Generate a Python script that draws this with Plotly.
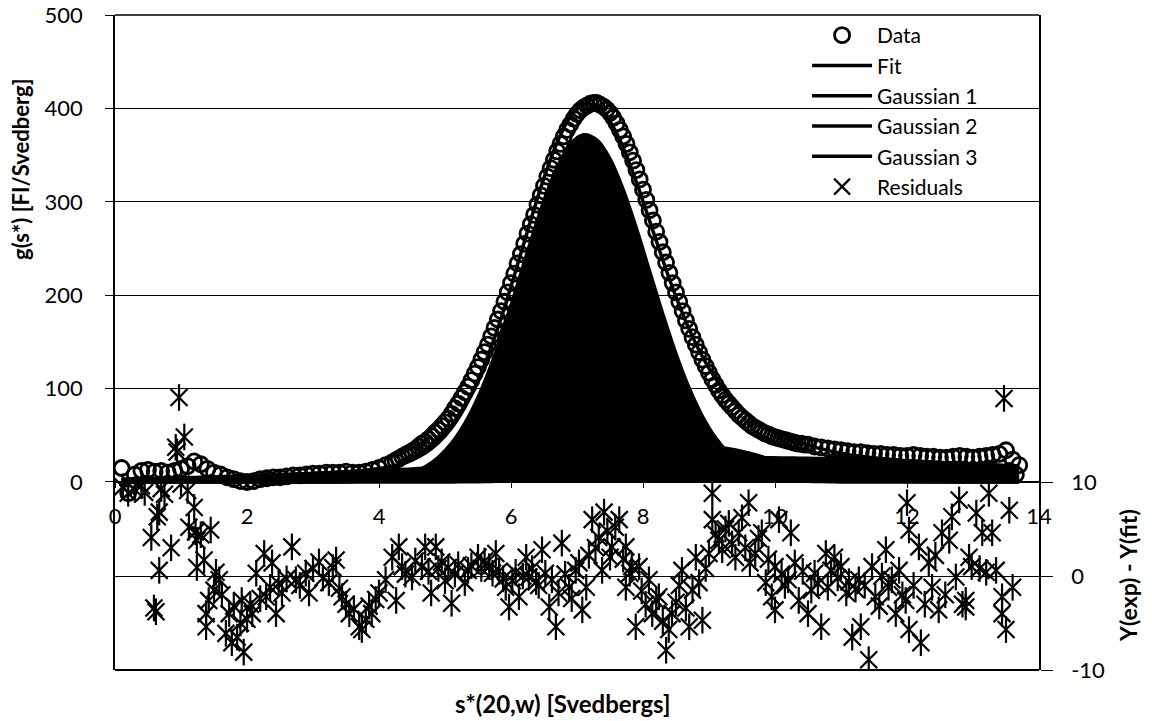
import plotly.graph_objects as go

# ---------------- data ----------------
data_s = [0.1, 0.2, 0.3, 0.4, 0.5, 0.6, 0.7, 0.8, 0.9, 1.0, 1.1, 1.2, 1.3, 1.4, 1.5, 1.6, 1.7, 1.8, 1.9, 2.0,
          2.1, 2.2, 2.3, 2.4, 2.5, 2.6, 2.7, 2.8, 2.9, 3.0, 3.1, 3.2, 3.3, 3.4, 3.5, 3.6, 3.7, 3.8, 3.9, 4.0,
          4.1, 4.2, 4.3, 4.4, 4.5, 4.6, 4.7, 4.8, 4.9, 5.0, 5.1, 5.2, 5.3, 5.4, 5.5, 5.6, 5.7, 5.8, 5.9, 6.0,
          6.1, 6.2, 6.3, 6.4, 6.5, 6.6, 6.7, 6.8, 6.9, 7.0, 7.1, 7.2, 7.3, 7.4, 7.5, 7.6, 7.7, 7.8, 7.9, 8.0,
          8.1, 8.2, 8.3, 8.4, 8.5, 8.6, 8.7, 8.8, 8.9, 9.0, 9.1, 9.2, 9.3, 9.4, 9.5, 9.6, 9.7, 9.8, 9.9, 10.0,
          10.1, 10.2, 10.3, 10.4, 10.5, 10.6, 10.7, 10.8, 10.9, 11.0, 11.1, 11.2, 11.3, 11.4, 11.5, 11.6, 11.7,
          11.8, 11.9, 12.0, 12.1, 12.2, 12.3, 12.4, 12.5, 12.6, 12.7, 12.8, 12.9, 13.0, 13.1, 13.2, 13.3, 13.4,
          13.5, 13.55, 13.6, 13.65, 13.7]
data_g = [15, -12, 8, 12, 13, 11, 12, 10, 12, 14, 17, 22, 19, 14, 10, 8, 5, 3, 1, 0,
          1, 3, 4, 5, 5, 6, 7, 7, 8, 9, 9, 10, 10, 10, 11, 10, 10, 11, 13, 15,
          18, 21, 25, 29, 33, 38, 43, 49, 56, 64, 73, 84, 96, 109, 123, 139, 156, 174, 193, 213,
          234, 255, 276, 297, 317, 336, 354, 370, 383, 394, 401, 405, 406, 402, 395, 384, 370, 353, 334, 313,
          291, 268, 246, 224, 203, 183, 164, 147, 131, 117, 104, 93, 84, 76, 69, 63, 58, 54, 51, 48,
          46, 44, 42, 41, 40, 38, 37, 36, 35, 34, 33, 32, 32, 31, 30, 30, 29,
          29, 28, 28, 29, 28, 27, 27, 26, 26, 27, 28, 27, 26, 27, 28, 29, 30,
          34, 12, 24, 8, 18]
# extra readings between the above along the peak (points are very dense there)
data_s_mid = [4.25, 4.35, 4.45, 4.55, 4.65, 4.75, 4.85, 4.95, 5.05, 5.15, 5.25, 5.35, 5.45, 5.55, 5.65,
              5.75, 5.85, 5.95, 6.05, 6.15, 6.25, 6.35, 6.45, 6.55, 6.65, 6.75, 6.85, 6.95, 7.05, 7.15,
              7.25, 7.35, 7.45, 7.55, 7.65, 7.75, 7.85, 7.95, 8.05, 8.15, 8.25, 8.35, 8.45, 8.55, 8.65,
              8.75, 8.85, 8.95, 9.05, 9.15, 9.25, 9.35, 9.45, 9.55, 9.65, 9.75, 9.85, 9.95, 10.05, 10.15,
              10.25, 10.35, 10.45]
data_g_mid = [23, 27, 31, 35, 41, 46, 53, 60, 68, 79, 90, 102, 116, 131, 147,
              165, 183, 203, 223, 244, 266, 286, 307, 327, 345, 362, 377, 389, 398, 403,
              406, 404, 399, 390, 377, 362, 344, 324, 302, 280, 257, 235, 213, 193, 173,
              155, 139, 124, 110, 98, 88, 80, 72, 66, 60, 56, 52, 49, 47, 45,
              43, 41, 40]

line_s = [0.1, 0.3, 0.5, 0.7, 0.9, 1.1, 1.3, 1.5, 1.7, 1.9, 2.1, 2.3, 2.5, 2.7, 2.9, 3.1, 3.3, 3.5, 3.7, 3.9,
          4.1, 4.3, 4.5, 4.7, 4.9, 5.1, 5.3, 5.5, 5.7, 5.9, 6.1, 6.3, 6.5, 6.7, 6.9, 7.1, 7.3, 7.5, 7.7, 7.9,
          8.1, 8.3, 8.5, 8.7, 8.9, 9.1, 9.3, 9.5, 9.7, 9.9, 10.1, 10.3, 10.5, 10.7, 10.9, 11.1, 11.3, 11.5,
          11.7, 11.9, 12.1, 12.3, 12.5, 12.7, 12.9, 13.1, 13.3, 13.5, 13.7]
gauss1 = [0, 0, 0, 0, 0, 0, 0, 0, 0, 0, 0, 0, 0, 0, 0, 0, 0, 0.3, 0.7, 1.5,
          2.8, 5.3, 9.4, 16.2, 26.5, 41.6, 62.8, 90.6, 125.5, 166.5, 211.7, 258.0, 301.3, 337.2, 361.7, 371.8, 366.3, 345.9, 313.0, 271.5,
          225.6, 179.8, 137.2, 100.4, 70.4, 47.3, 30.5, 18.8, 11.1, 6.3, 3.4, 1.8, 0.9, 0.4, 0.2, 0, 0, 0,
          0, 0, 0, 0, 0, 0, 0, 0, 0, 0, 0]
gauss2 = [0, 0, 0, 0, 0, 0, 0, 0, 0, 0, 0, 0, 0, 0, 0, 0, 0, 0, 0, 0,
          0, 0, 0, 0, 0.05, 0.1, 0.2, 0.3, 0.6, 0.9, 1.6, 2.3, 3.5, 5.1, 7.3, 10.0, 13.2, 16.9, 21.0, 25.1,
          29.2, 32.7, 35.6, 37.4, 38.0, 37.4, 35.6, 32.7, 29.2, 25.1, 21.0, 16.9, 13.2, 10.0, 7.3, 5.1, 3.5, 2.3,
          1.5, 0.9, 0.55, 0.3, 0.2, 0.1, 0, 0, 0, 0, 0]
gauss3 = [2.9, 3.2, 3.5, 3.8, 4.2, 4.5, 4.9, 5.4, 5.8, 6.2, 6.7, 7.2, 7.8, 8.3, 8.9, 9.5, 10.1, 10.7, 11.3, 12.0,
          12.7, 13.3, 14.0, 14.7, 15.4, 16.1, 16.8, 17.5, 18.2, 18.9, 19.5, 20.2, 20.8, 21.4, 22.0, 22.5, 23.1, 23.6, 24.0, 24.4,
          24.8, 25.1, 25.4, 25.6, 25.8, 25.9, 26.0, 26.0, 26.0, 25.9, 25.8, 25.6, 25.4, 25.1, 24.8, 24.4, 24.0, 23.6,
          23.1, 22.5, 22.0, 21.4, 20.8, 20.2, 19.5, 18.9, 18.2, 17.5, 16.8]
fit = [2.9, 3.2, 3.5, 3.8, 4.2, 4.5, 4.9, 5.4, 5.8, 6.2, 6.7, 7.2, 7.8, 8.3, 8.9, 9.5, 10.1, 11.0, 12.0, 13.5,
       15.5, 18.6, 23.4, 30.9, 42.0, 57.8, 79.8, 108.4, 144.3, 186.3, 232.8, 280.5, 325.6, 363.7, 391.0, 404.3, 402.6, 386.4, 358.0, 321.0,
       279.6, 237.6, 198.2, 163.4, 134.2, 110.6, 92.1, 77.5, 66.3, 57.3, 50.2, 44.3, 39.5, 35.5, 32.3, 29.5, 27.5, 25.9,
       24.6, 23.4, 22.6, 21.7, 21.0, 20.3, 19.5, 18.9, 18.2, 17.5, 16.8]

res_s = [0.12, 0.2, 0.3, 0.4, 0.45, 0.55, 0.59, 0.62, 0.64, 0.67, 0.67, 0.7, 0.75, 0.85, 0.92, 0.94, 0.97, 1.0,
         1.05, 1.1, 1.12, 1.2, 1.22, 1.24, 1.24, 1.3, 1.35, 1.38, 1.38, 1.42, 1.45, 1.5, 1.53, 1.58, 1.62, 1.68,
         1.73, 1.77, 1.8, 1.85, 1.9, 1.92, 1.95, 2.0, 2.05, 2.08, 2.14, 2.2, 2.26, 2.29, 2.35, 2.38, 2.44, 2.48,
         2.53, 2.6, 2.68, 2.74, 2.8, 2.89, 2.94, 3.0, 3.09, 3.15, 3.24, 3.3, 3.35, 3.4, 3.44, 3.5, 3.55, 3.62,
         3.7, 3.74, 3.8, 3.85, 3.89, 3.95, 4.0, 4.1, 4.2, 4.26, 4.3, 4.35, 4.4, 4.5, 4.55, 4.65, 4.7, 4.75,
         4.79, 4.86, 4.9, 4.95, 5.0, 5.05, 5.1, 5.15, 5.2, 5.3, 5.35, 5.4, 5.5, 5.55, 5.6, 5.67, 5.72, 5.77,
         5.82, 5.88, 5.92, 5.97, 6.02, 6.07, 6.12, 6.18, 6.23, 6.27, 6.32, 6.38, 6.42, 6.47, 6.52, 6.58, 6.62,
         6.68, 6.72, 6.77, 6.82, 6.88, 6.92, 6.98, 7.03, 7.08, 7.14, 7.18, 7.23, 7.28, 7.33, 7.38, 7.41, 7.46,
         7.5, 7.53, 7.58, 7.64, 7.7, 7.74, 7.74, 7.8, 7.83, 7.89, 7.94, 7.98, 8.04, 8.09, 8.14, 8.2, 8.24, 8.3,
         8.35, 8.39, 8.44, 8.5, 8.55, 8.59, 8.65, 8.7, 8.75, 8.8, 8.85, 8.9, 8.95, 9.0, 9.05, 9.05, 9.1, 9.15,
         9.2, 9.25, 9.3, 9.35, 9.4, 9.45, 9.5, 9.55, 9.6, 9.62, 9.7, 9.75, 9.8, 9.86, 9.9, 9.95, 10.0, 10.0,
         10.06, 10.1, 10.15, 10.2, 10.24, 10.3, 10.36, 10.42, 10.5, 10.55, 10.6, 10.65, 10.7, 10.77, 10.8,
         10.85, 10.9, 10.95, 11.0, 11.08, 11.12, 11.17, 11.22, 11.27, 11.3, 11.36, 11.42, 11.47, 11.52, 11.58,
         11.62, 11.68, 11.72, 11.77, 11.83, 11.88, 11.93, 11.98, 12.0, 12.03, 12.03, 12.1, 12.18, 12.21, 12.27,
         12.33, 12.38, 12.43, 12.48, 12.53, 12.58, 12.64, 12.68, 12.74, 12.79, 12.84, 12.89, 12.89, 12.94,
         12.98, 13.05, 13.1, 13.14, 13.2, 13.24, 13.29, 13.35, 13.44, 13.44, 13.47, 13.5, 13.55, 13.6]
res_v = [9.5, 8.8, 9.2, 9.6, 8.9, 4.1, -3.4, -3.8, 6.3, 6.8, 0.6, 9.3, 8.7, 3.0, 13.7, 13.2, 19.0, 9.8,
         14.8, 9.1, 5.2, 7.3, 4.7, 3.8, 0.9, 4.4, 1.7, -4.0, -5.4, -2.6, 4.9, -1.5, 0.4, -0.4, -2.0, -6.1,
         -4.0, -7.1, -3.2, -6.5, -5.0, -2.6, -8.1, -4.6, -3.0, -4.0, 0.3, -2.4, 2.4, -2.2, -1.2, 1.4, -4.0, -0.8,
         -1.8, -0.3, 3.1, -0.4, -1.0, 0.3, -1.8, 0.8, 1.5, -0.2, -0.7, 0.9, 1.7, -1.3, -2.2, -3.0, -4.0, -3.5,
         -5.4, -5.7, -4.6, -3.2, -4.0, -2.5, -1.8, -0.4, 2.0, -2.6, 3.1, 1.0, 0.2, -0.1, 1.6, 1.0, 3.1, 0.5,
         -1.8, 3.1, 0.8, 1.5, -0.5, 0.9, -2.9, 0.2, 1.2, -0.7, 0.6, 1.1, 2.0, 0.8, 1.6, 1.0, 0.3, 2.4,
         0.5, -0.3, -1.2, -3.3, -0.5, 0.4, -2.2, 0.0, 2.0, -0.1, 0.8, -0.6, -1.0, 2.8, 0.3, -3.3, -0.4,
         -5.4, -1.8, 3.5, 0.2, -1.2, -2.4, 0.6, 1.4, -3.6, -1.2, 2.2, 6.0, 3.0, 4.1, 0.6, 6.8, 4.8,
         2.0, 3.1, 5.2, 6.0, 1.8, 3.1, -1.2, 0.3, 1.0, -5.4, 1.0, -1.6, -3.0, -0.4, -4.0, -2.6, -2.2, -4.8,
         -7.9, -5.7, -4.0, -2.8, -1.0, 0.6, -3.4, -5.4, -1.5, 2.0, -0.7, -4.7, 0.8, 2.4, 8.8, 6.0, 4.5, 3.8,
         2.8, 5.0, 5.6, 3.4, 2.0, 4.6, 6.2, 3.0, 7.8, 1.4, 2.4, 4.0, 4.6, -0.7, 1.8, -2.2, 1.0, -3.6,
         6.0, 0.2, -1.0, -0.4, 4.6, 1.4, -2.6, 0.5, -4.0, -1.5, 0.3, -0.8, -5.4, 2.4, -1.2,
         0.6, 2.0, -0.2, 1.0, -1.8, -0.6, -6.5, -1.4, -0.4, -5.4, -1.0, -8.9, 1.0, -2.2, -3.2,
         0.0, 2.8, -1.2, -0.4, -4.0, 0.6, -2.0, -2.6, 7.8, 4.9, -5.7, -1.0, 3.1, -7.1, -3.0,
         1.4, -1.2, 2.2, -3.6, 4.6, -2.0, 3.8, 6.3, -0.1, 8.1, -3.0, -2.6, -3.3, 2.0,
         1.0, 6.7, 0.8, 4.6, 0.4, 8.8, 4.6, 0.6, -2.2, -4.0, 18.9, -5.7, 7.0, -1.2]

x_ticks = [0, 2, 4, 6, 8, 10, 12, 14]
g_ticks = [0, 100, 200, 300, 400, 500]
r_ticks = [-10, 0, 10]
r_tick_text = ["-10", "0", "10"]

# ---------------- figure ----------------
FONT = "Lato, 'Open Sans', sans-serif"
BLACK = "#000000"

fig = go.Figure()

# Gaussian components drawn as filled areas (scan renders them solid black)
for g in (gauss3, gauss2, gauss1):
    fig.add_trace(go.Scatter(x=line_s, y=g, mode="lines", fill="tozeroy",
                             fillcolor=BLACK, line=dict(color=BLACK, width=2, shape="spline"),
                             showlegend=False, hoverinfo="skip"))

fig.add_trace(go.Scatter(x=line_s, y=gauss2, mode="lines", name="Gaussian 2", legendrank=4,
                         line=dict(color=BLACK, width=3.5, shape="spline")))
fig.add_trace(go.Scatter(x=line_s, y=gauss3, mode="lines", name="Gaussian 3", legendrank=5,
                         line=dict(color=BLACK, width=3.5, shape="spline")))
fig.add_trace(go.Scatter(x=line_s, y=gauss1, mode="lines", name="Gaussian 1", legendrank=3,
                         line=dict(color=BLACK, width=3.5, shape="spline")))
fig.add_trace(go.Scatter(x=line_s, y=fit, mode="lines", name="Fit", legendrank=2,
                         line=dict(color=BLACK, width=3.5, shape="spline")))

fig.add_trace(go.Scatter(x=data_s + data_s_mid, y=data_g + data_g_mid, mode="markers",
                         name="Data", legendrank=1,
                         marker=dict(symbol="circle-open", size=15, color=BLACK,
                                     line=dict(width=2.8, color=BLACK))))

# residuals on the right axis: asterisk drawn as an x plus a vertical bar
fig.add_trace(go.Scatter(x=res_s, y=res_v, mode="markers", yaxis="y2", showlegend=False,
                         hoverinfo="skip",
                         marker=dict(symbol="line-ns-open", size=19, color=BLACK,
                                     line=dict(width=2.2, color=BLACK))))
fig.add_trace(go.Scatter(x=res_s, y=res_v, mode="markers", yaxis="y2", name="Residuals", legendrank=6,
                         marker=dict(symbol="x-thin-open", size=17, color=BLACK,
                                     line=dict(width=2.2, color=BLACK))))

G_MIN = -201.3
x_pos = (0 - G_MIN) / (500 - G_MIN)

fig.update_layout(
    width=1152, height=721,
    margin=dict(l=115, r=113, t=15, b=51, autoexpand=False),
    paper_bgcolor="white", plot_bgcolor="white",
    font=dict(family=FONT, size=22, color=BLACK),
    showlegend=True,
    legend=dict(x=0.749, y=1.0, xanchor="left", yanchor="top",
                bgcolor="rgba(0,0,0,0)", borderwidth=0, itemwidth=60,
                font=dict(family=FONT, size=21, color=BLACK), tracegroupgap=0),
    xaxis=dict(range=[0, 14], tickvals=x_ticks, anchor="free", position=x_pos,
               showline=True, linecolor=BLACK, linewidth=1.5, ticks="outside", ticklen=5,
               tickcolor=BLACK, showgrid=False, zeroline=False, ticklabelstandoff=10,
               automargin=False, tickfont=dict(family=FONT, size=22, color=BLACK)),
    yaxis=dict(range=[G_MIN, 500], tickvals=g_ticks, showline=True, linecolor=BLACK, linewidth=1.5,
               ticks="outside", ticklen=8, tickcolor=BLACK, showgrid=True, gridcolor=BLACK,
               gridwidth=1.3, zeroline=False, ticklabelstandoff=18, automargin=False,
               tickfont=dict(family=FONT, size=22, color=BLACK)),
    yaxis2=dict(range=[-10, 59.7], tickvals=r_ticks, ticktext=r_tick_text, overlaying="y", side="right",
                showline=True, linecolor=BLACK, linewidth=1.5, ticks="outside", ticklen=12,
                tickcolor=BLACK, showgrid=True, gridcolor=BLACK, gridwidth=1.3, zeroline=False,
                ticklabelstandoff=14, automargin=False, tickfont=dict(family=FONT, size=22, color=BLACK)),
    shapes=[
        dict(type="line", xref="paper", yref="paper", x0=0, x1=1, y0=0, y1=0,
             line=dict(color=BLACK, width=1.8)),
        dict(type="line", xref="paper", yref="paper", x0=0, x1=1, y0=1, y1=1,
             line=dict(color=BLACK, width=1.5)),
    ],
    annotations=[
        dict(text="<b>g(s*) [FI/Svedberg]</b>", xref="paper", yref="paper", x=-0.1017, y=0.765,
             textangle=-90, showarrow=False, xanchor="center", yanchor="middle",
             font=dict(family=FONT, size=22, color=BLACK)),
        dict(text="<b>Y(exp) - Y(fit)</b>", xref="paper", yref="paper", x=1.0963, y=0.145,
             textangle=-90, showarrow=False, xanchor="center", yanchor="middle",
             font=dict(family=FONT, size=23, color=BLACK)),
        dict(text="<b>s*(20,w) [Svedbergs]</b>", xref="paper", yref="paper", x=0.4848, y=-0.0504,
             showarrow=False, xanchor="center", yanchor="middle",
             font=dict(family=FONT, size=24, color=BLACK)),
    ],
)

fig.write_html("out.html", config={"displayModeBar": False})
